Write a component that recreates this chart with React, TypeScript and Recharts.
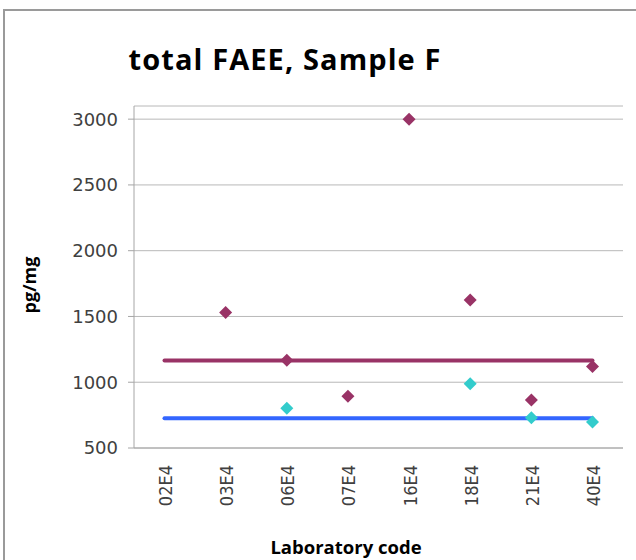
import React from "react";
import {
  ComposedChart,
  Scatter,
  Line,
  XAxis,
  YAxis,
  CartesianGrid,
} from "recharts";

const labCodes = ["02E4", "03E4", "06E4", "07E4", "16E4", "18E4", "21E4", "40E4"];
const resultsA: (number | null)[] = [null, 1530, 1168, 893, 3000, 1625, 865, 1120];
const resultsB: (number | null)[] = [null, null, 803, null, null, 988, 730, 697];
const meanA = [1165, 1165, 1165, 1165, 1165, 1165, 1165, 1165];
const meanB = [727, 727, 727, 727, 727, 727, 727, 727];
const yTicks = [500, 1000, 1500, 2000, 2500, 3000];

const data = labCodes.map((code, i) => ({
  code,
  a: resultsA[i],
  b: resultsB[i],
  ma: meanA[i],
  mb: meanB[i],
}));

const PURPLE = "#993366";
const CYAN = "#33CCCC";
const BLUE = "#3366FF";

const makeDiamond = (color: string, key: "a" | "b") => (props: any) => {
  const { cx, cy, payload } = props;
  if (payload == null || payload[key] == null || cx == null || cy == null || isNaN(cy)) return <g />;
  const r = 6.5;
  return (
    <polygon
      points={`${cx},${cy - r} ${cx + r},${cy} ${cx},${cy + r} ${cx - r},${cy}`}
      fill={color}
    />
  );
};

const XTick = (props: any) => {
  const { x, payload } = props;
  const tx = x + 1;
  const ty = 465;
  return (
    <text
      x={tx}
      y={ty}
      transform={`rotate(-90, ${tx}, ${ty})`}
      textAnchor="end"
      dominantBaseline="central"
      fontFamily="'Liberation Sans Narrow', 'DejaVu Sans Condensed', 'Liberation Sans', sans-serif"
      fontSize={18}
      fill="#404040"
    >
      {payload.value}
    </text>
  );
};

export default function App() {
  return (
    <div style={{ position: "absolute", left: 0, top: 0, width: 636, height: 560, background: "#fff", overflow: "hidden" }}>
      <ComposedChart
        width={636}
        height={560}
        data={data}
        margin={{ top: 106, right: 13, left: 0, bottom: 0 }}
      >
        <CartesianGrid vertical={false} stroke="#b8b8b8" strokeWidth={1} />
        <XAxis
          dataKey="code"
          type="category"
          height={112}
          padding={{ left: 30.5, right: 30.5 }}
          tickLine={false}
          axisLine={{ stroke: "#a6a6a6", strokeWidth: 1 }}
          tick={<XTick />}
          interval={0}
        />
        <YAxis
          width={134}
          domain={[500, 3100]}
          ticks={yTicks}
          allowDataOverflow
          tickSize={6}
          tickMargin={10}
          tickLine={{ stroke: "#a6a6a6" }}
          axisLine={{ stroke: "#a6a6a6", strokeWidth: 1 }}
          tick={{ fontFamily: "'DejaVu Sans', sans-serif", fontSize: 18, fill: "#404040" }}
        />
        <Scatter dataKey="a" fill={PURPLE} shape={makeDiamond(PURPLE, "a")} isAnimationActive={false} />
        <Scatter dataKey="b" fill={CYAN} shape={makeDiamond(CYAN, "b")} isAnimationActive={false} />
        <Line
          dataKey="ma"
          stroke={PURPLE}
          strokeWidth={4}
          strokeLinecap="round"
          dot={false}
          activeDot={false}
          isAnimationActive={false}
        />
        <Line
          dataKey="mb"
          stroke={BLUE}
          strokeWidth={4}
          strokeLinecap="round"
          dot={false}
          activeDot={false}
          isAnimationActive={false}
        />
      </ComposedChart>
      <svg
        width={636}
        height={560}
        style={{ position: "absolute", left: 0, top: 0, pointerEvents: "none" }}
      >
        <line x1={4} y1={10} x2={4} y2={560} stroke="#9a9a9a" strokeWidth={2} />
        <line x1={3} y1={10} x2={636} y2={10} stroke="#9a9a9a" strokeWidth={2} />
        <text
          x={285}
          y={70}
          textAnchor="middle"
          fontFamily="'Open Sans', sans-serif"
          fontWeight="bold"
          fontSize={29}
          letterSpacing={1.1}
          fill="#000"
        >
          total FAEE, Sample F
        </text>
        <text
          x={346}
          y={554}
          textAnchor="middle"
          fontFamily="'Open Sans', sans-serif"
          fontWeight="bold"
          fontSize={18.5}
          fill="#000"
        >
          Laboratory code
        </text>
        <text
          x={0}
          y={0}
          transform="translate(36, 285) rotate(-90)"
          textAnchor="middle"
          fontFamily="'Open Sans', sans-serif"
          fontWeight="bold"
          fontSize={18}
          fill="#000"
        >
          pg/mg
        </text>
      </svg>
    </div>
  );
}
